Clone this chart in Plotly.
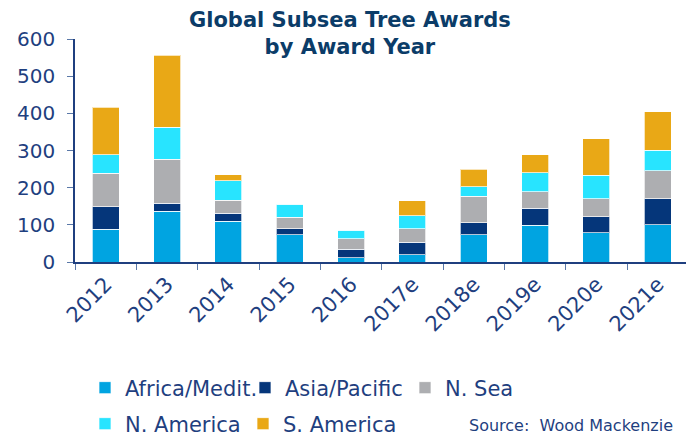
import plotly.graph_objects as go

categories = ["2012", "2013", "2014", "2015", "2016", "2017e", "2018e", "2019e", "2020e", "2021e"]
africa_medit = [88, 137, 109, 73, 12, 20, 74, 99, 79, 100]
asia_pacific = [61, 21, 22, 17, 22, 33, 32, 46, 43, 70]
n_sea = [90, 119, 35, 30, 28, 36, 71, 44, 48, 76]
n_america = [50, 85, 53, 36, 24, 35, 26, 51, 64, 55]
s_america = [127, 194, 16, 0, 0, 41, 47, 49, 97, 103]
y_ticks = [0, 100, 200, 300, 400, 500, 600]

series = [
    ("Africa/Medit.", africa_medit, "#00A4E1", "legend", 125),
    ("Asia/Pacific", asia_pacific, "#05367A", "legend2", 285),
    ("N. Sea", n_sea, "#ADAEB1", "legend3", 445),
    ("N. America", n_america, "#28E4FF", "legend4", 125),
    ("S. America", s_america, "#E9A816", "legend5", 283),
]

W, H = 686, 438
NAVY = "#1F3F7F"
fig = go.Figure()
for name, vals, color, leg, _ in series:
    fig.add_trace(go.Bar(
        x=categories, y=vals, name=name, legend=leg,
        marker=dict(color=color, line=dict(color="rgba(255,255,255,0.7)", width=1)),
    ))

legend_font = dict(family="DejaVu Sans", size=21, color=NAVY)
leg_layout = {}
for i, (name, vals, color, leg, tx) in enumerate(series):
    ycenter = 388 if i < 3 else 424
    leg_layout[leg] = dict(
        x=(tx - 40) / W, xref="container", xanchor="left",
        y=1 - ycenter / H, yref="container", yanchor="middle",
        orientation="h", font=legend_font, bgcolor="rgba(0,0,0,0)",
        borderwidth=0, tracegroupgap=0,
    )

fig.update_layout(
    width=W, height=H,
    margin=dict(l=75, r=0, t=39, b=176, autoexpand=False),
    plot_bgcolor="white", paper_bgcolor="white",
    barmode="stack", bargap=0.56,
    showlegend=True,
    font=dict(family="DejaVu Sans", color=NAVY),
    **leg_layout,
)
fig.update_xaxes(
    range=[-0.5, 9.46], showline=True, linecolor=NAVY, linewidth=1.5,
    ticks="outside", tickson="boundaries", ticklen=6, tickcolor="#5A78A8",
    tickangle=-45, tickfont=dict(family="DejaVu Sans", size=21, color=NAVY),
    showgrid=False, fixedrange=True,
)
fig.update_yaxes(
    range=[0, 600], tickvals=y_ticks, showline=True, linecolor=NAVY, linewidth=1.5,
    ticks="outside", ticklen=6, tickcolor="#5A78A8",
    tickfont=dict(family="DejaVu Sans", size=20, color=NAVY),
    ticklabelstandoff=8, showgrid=False, zeroline=False,
)
fig.add_annotation(
    text="<b>Global Subsea Tree Awards<br>by Award Year</b>",
    xref="paper", yref="paper", x=(350 - 75) / (W - 75), y=1 + (39 - 6) / (H - 39 - 176),
    xanchor="center", yanchor="top", showarrow=False, align="center",
    font=dict(family="DejaVu Sans", size=21, color="#0B3C68"),
)
fig.add_annotation(
    text="Source:  Wood Mackenzie",
    xref="paper", yref="paper", x=(467 - 75) / (W - 75), y=-(425 - 262) / (H - 39 - 176),
    xanchor="left", yanchor="middle", showarrow=False,
    font=dict(family="DejaVu Sans", size=16, color=NAVY),
)
fig.write_html("out.html", config={"displayModeBar": False},
               post_script="document.body.style.margin='0px';")
